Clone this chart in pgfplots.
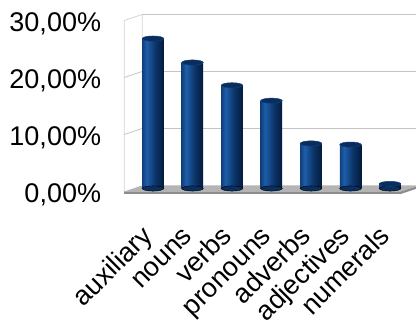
\documentclass[border=0pt]{standalone}
\usepackage{pgfplots}
\pgfplotsset{compat=1.18}
\usepackage{pgfplotstable}
\usepackage{fontspec}
\setmainfont{Liberation Sans}

\definecolor{barLeft}{HTML}{10407C}
\definecolor{barHi}{HTML}{1E5EAA}
\definecolor{barDark}{HTML}{031A3C}
\definecolor{barTop}{HTML}{0A2D5E}
\definecolor{gridc}{HTML}{C4C4C4}
\definecolor{wallc}{HTML}{D4D4D4}
\definecolor{floorTop}{HTML}{B4B4B4}
\definecolor{floorFront}{HTML}{8C8C8C}

% left-to-right gradient that gives the bars a rounded, cylindrical look
\pgfdeclarehorizontalshading{cylinder bar}{100bp}{%
  color(0bp)=(barLeft); color(25bp)=(barLeft); color(35bp)=(barHi);
  color(55bp)=(barLeft!70!barDark); color(75bp)=(barDark); color(100bp)=(barDark)}

% elliptical cap for the top and bottom of each cylinder
\pgfdeclareplotmark{cylcap}{%
  \pgfpathellipse{\pgfpointorigin}{\pgfqpoint{10.75pt}{0pt}}{\pgfqpoint{0pt}{2.6pt}}%
  \pgfusepathqfillstroke}

\pgfplotstableread{
idx share
0 26.3
1 22.1
2 18.1
3 15.4
4 7.9
5 7.7
6 0.8
}\sharetable

\begin{document}
\begin{tikzpicture}
\begin{axis}[
  x=39.5pt, y=5.7pt,
  xmin=-0.5, xmax=6.5, ymin=0, ymax=30,
  clip=false,
  axis line style={draw=none},
  major tick length=0pt,
  xtick={0,...,6},
  xticklabels={auxiliary,nouns,verbs,pronouns,adverbs,adjectives,numerals},
  xticklabel style={inner sep=0pt, font=\fontsize{27}{27}\selectfont,
    xshift=1pt, yshift=-49pt, rotate=45, anchor=base east},
  ytick={0,10,20,30},
  yticklabels={{0,00\%},{10,00\%},{20,00\%},{30,00\%}},
  yticklabel style={inner sep=0pt, font=\fontsize{27}{27}\selectfont,
    anchor=east, xshift=-32pt, yshift=-6.5pt},
]
  % side wall and back wall outline
  \draw[wallc, line width=0.8pt]
    ([shift={(-9pt,-3pt)}]axis cs:-0.5,0) -- ([shift={(-9pt,-3pt)}]axis cs:-0.5,30)
    -- ([shift={(9pt,3pt)}]axis cs:-0.5,30) -- ([shift={(9pt,3pt)}]axis cs:-0.5,0);
  % grid lines running across the side wall and the back wall
  \draw[gridc, line width=0.8pt]
    ([shift={(-9pt,-3pt)}]axis cs:-0.5,10) -- ([shift={(9pt,3pt)}]axis cs:-0.5,10)
    -- ([shift={(9pt,3pt)}]axis cs:7,10);
  \draw[gridc, line width=0.8pt]
    ([shift={(-9pt,-3pt)}]axis cs:-0.5,20) -- ([shift={(9pt,3pt)}]axis cs:-0.5,20)
    -- ([shift={(9pt,3pt)}]axis cs:7,20);
  \draw[gridc, line width=0.8pt]
    ([shift={(9pt,3pt)}]axis cs:-0.5,30) -- ([shift={(9pt,3pt)}]axis cs:7,30);
  % floor: front edge, then top face
  \fill[floorFront]
    ([shift={(-9pt,-3pt)}]axis cs:-0.5,0) -- ([shift={(-9pt,-3pt)}]axis cs:6.5,0)
    -- ([shift={(9pt,3pt)}]axis cs:6.5,0) -- ([shift={(9pt,0.5pt)}]axis cs:6.5,0)
    -- ([shift={(-9pt,-5.5pt)}]axis cs:6.5,0) -- ([shift={(-9pt,-5.5pt)}]axis cs:-0.5,0) -- cycle;
  \fill[floorTop]
    ([shift={(-9pt,-3pt)}]axis cs:-0.5,0) -- ([shift={(-9pt,-3pt)}]axis cs:6.5,0)
    -- ([shift={(9pt,3pt)}]axis cs:6.5,0) -- ([shift={(9pt,3pt)}]axis cs:-0.5,0) -- cycle;

  % rounded bases
  \addplot[only marks, mark=cylcap, mark options={fill=barLeft!55!barDark, draw=none}]
    table[x=idx, y expr=0] {\sharetable};
  % cylinder bodies, one plot per row so each bar gets its own gradient
  \pgfplotsinvokeforeach{0,...,6}{
    \addplot[ybar, bar width=21.5pt, draw=none, shading=cylinder bar,
      x filter/.expression={\coordindex==#1 ? x : nan}]
      table[x=idx, y=share] {\sharetable};
  }
  % cylinder tops
  \addplot[only marks, mark=cylcap, mark options={fill=barTop, draw=barLeft, line width=0.5pt}]
    table[x=idx, y=share] {\sharetable};

  \coordinate (O) at (axis cs:0,0);
\end{axis}
\pgfresetboundingbox
\path[use as bounding box] ([shift={(-153pt,-131.5pt)}]O) rectangle ([shift={(263pt,188.5pt)}]O);
\end{tikzpicture}
\end{document}
